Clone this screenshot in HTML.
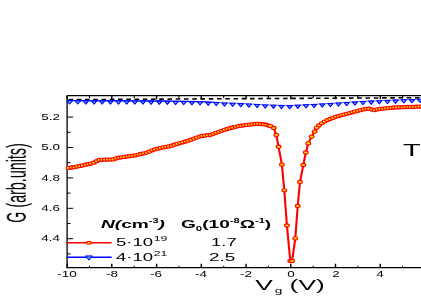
<!DOCTYPE html>
<html><head><meta charset="utf-8"><style>
html,body{margin:0;padding:0;background:#fff;}
body{width:421px;height:298px;position:relative;overflow:hidden;font-family:"Liberation Sans",sans-serif;color:#000;}
.t{position:absolute;white-space:nowrap;line-height:1.2;will-change:transform;}
sup{font-size:58%;vertical-align:baseline;position:relative;top:-0.72em;}
sup.s2{font-size:66%;top:-0.78em;margin-left:0.3px}
sub{font-size:70%;vertical-align:baseline;position:relative;top:0.3em;}
</style></head><body>
<svg width="421" height="298" viewBox="0 0 421 298" style="position:absolute;left:0;top:0">
<g stroke="#000" stroke-width="1.3" fill="none">
<path d="M67.1 95.6 V267.7 H422 M67.1 95.6 H422"/>
</g>
<g stroke="#000" stroke-width="1" fill="none">
<path d="M67.1 253.9 h3.4"/>
<path d="M67.1 238.7 h6"/>
<path d="M67.1 223.5 h3.4"/>
<path d="M67.1 208.3 h6"/>
<path d="M67.1 193.1 h3.4"/>
<path d="M67.1 177.9 h6"/>
<path d="M67.1 162.7 h3.4"/>
<path d="M67.1 147.5 h6"/>
<path d="M67.1 132.3 h3.4"/>
<path d="M67.1 117.1 h6"/>
<path d="M67.1 101.9 h3.4"/>
<path d="M67.1 267.7 v-3.9 M67.1 95.6 v3.6" stroke-width="1.4"/>
<path d="M89.5 267.7 v-2.0 M89.5 95.6 v2.6" stroke-width="1.1"/>
<path d="M111.8 267.7 v-3.9 M111.8 95.6 v3.6" stroke-width="1.4"/>
<path d="M134.2 267.7 v-2.0 M134.2 95.6 v2.6" stroke-width="1.1"/>
<path d="M156.6 267.7 v-3.9 M156.6 95.6 v3.6" stroke-width="1.4"/>
<path d="M178.9 267.7 v-2.0 M178.9 95.6 v2.6" stroke-width="1.1"/>
<path d="M201.3 267.7 v-3.9 M201.3 95.6 v3.6" stroke-width="1.4"/>
<path d="M223.7 267.7 v-2.0 M223.7 95.6 v2.6" stroke-width="1.1"/>
<path d="M246.1 267.7 v-3.9 M246.1 95.6 v3.6" stroke-width="1.4"/>
<path d="M268.4 267.7 v-2.0 M268.4 95.6 v2.6" stroke-width="1.1"/>
<path d="M290.8 267.7 v-3.9 M290.8 95.6 v3.6" stroke-width="1.4"/>
<path d="M313.2 267.7 v-2.0 M313.2 95.6 v2.6" stroke-width="1.1"/>
<path d="M335.5 267.7 v-3.9 M335.5 95.6 v3.6" stroke-width="1.4"/>
<path d="M357.9 267.7 v-2.0 M357.9 95.6 v2.6" stroke-width="1.1"/>
<path d="M380.3 267.7 v-3.9 M380.3 95.6 v3.6" stroke-width="1.4"/>
<path d="M402.6 267.7 v-2.0 M402.6 95.6 v2.6" stroke-width="1.1"/>
</g>
<path d="M67.1 99.7 L200 98.9 L421 97.7" stroke="#000" stroke-width="1.6" stroke-dasharray="4.6 3.65" stroke-dashoffset="6.85" fill="none"/>
<clipPath id="c1"><rect x="67" y="90" width="148" height="30"/></clipPath><clipPath id="c2"><rect x="215" y="90" width="210" height="30"/></clipPath>
<polyline points="67,100.7 160,101.0 200,101.7 240,103.5 270,105.0 290,105.5 310,104.5 340,102.8 360,101.4 395,100.0 425,99.1" stroke="#0000ff" stroke-width="1.3" fill="none" clip-path="url(#c1)"/>
<polyline points="67,100.7 160,101.0 200,101.7 240,103.5 270,105.0 290,105.5 310,104.5 340,102.8 360,101.4 395,100.0 425,99.1" stroke="#0000ff" stroke-width="0.6" fill="none" clip-path="url(#c2)"/>
<path d="M67.0 100.8 h5.2 l-2.6 3.2 z" fill="#55c0ff" stroke="#0000ff" stroke-width="1.05" stroke-linejoin="round"/>
<path d="M75.2 100.8 h5.2 l-2.6 3.2 z" fill="#55c0ff" stroke="#0000ff" stroke-width="1.05" stroke-linejoin="round"/>
<path d="M83.3 100.9 h5.2 l-2.6 3.2 z" fill="#55c0ff" stroke="#0000ff" stroke-width="1.05" stroke-linejoin="round"/>
<path d="M91.5 100.9 h5.2 l-2.6 3.2 z" fill="#55c0ff" stroke="#0000ff" stroke-width="1.05" stroke-linejoin="round"/>
<path d="M99.6 100.9 h5.2 l-2.6 3.2 z" fill="#55c0ff" stroke="#0000ff" stroke-width="1.05" stroke-linejoin="round"/>
<path d="M107.8 100.9 h5.2 l-2.6 3.2 z" fill="#55c0ff" stroke="#0000ff" stroke-width="1.05" stroke-linejoin="round"/>
<path d="M115.9 101.0 h5.2 l-2.6 3.2 z" fill="#55c0ff" stroke="#0000ff" stroke-width="1.05" stroke-linejoin="round"/>
<path d="M124.1 101.0 h5.2 l-2.6 3.2 z" fill="#55c0ff" stroke="#0000ff" stroke-width="1.05" stroke-linejoin="round"/>
<path d="M132.2 101.0 h5.2 l-2.6 3.2 z" fill="#55c0ff" stroke="#0000ff" stroke-width="1.05" stroke-linejoin="round"/>
<path d="M140.4 101.0 h5.2 l-2.6 3.2 z" fill="#55c0ff" stroke="#0000ff" stroke-width="1.05" stroke-linejoin="round"/>
<path d="M148.5 101.1 h5.2 l-2.6 3.2 z" fill="#55c0ff" stroke="#0000ff" stroke-width="1.05" stroke-linejoin="round"/>
<path d="M156.7 101.1 h5.2 l-2.6 3.2 z" fill="#55c0ff" stroke="#0000ff" stroke-width="1.05" stroke-linejoin="round"/>
<path d="M164.8 101.2 h5.2 l-2.6 3.2 z" fill="#55c0ff" stroke="#0000ff" stroke-width="1.05" stroke-linejoin="round"/>
<path d="M173.0 101.4 h5.2 l-2.6 3.2 z" fill="#55c0ff" stroke="#0000ff" stroke-width="1.05" stroke-linejoin="round"/>
<path d="M181.1 101.5 h5.2 l-2.6 3.2 z" fill="#55c0ff" stroke="#0000ff" stroke-width="1.05" stroke-linejoin="round"/>
<path d="M189.3 101.7 h5.2 l-2.6 3.2 z" fill="#55c0ff" stroke="#0000ff" stroke-width="1.05" stroke-linejoin="round"/>
<path d="M197.4 101.8 h5.2 l-2.6 3.2 z" fill="#55c0ff" stroke="#0000ff" stroke-width="1.05" stroke-linejoin="round"/>
<path d="M205.6 102.2 h5.2 l-2.6 3.2 z" fill="#55c0ff" stroke="#0000ff" stroke-width="1.05" stroke-linejoin="round"/>
<path d="M213.7 102.5 h5.2 l-2.6 3.2 z" fill="#55c0ff" stroke="#0000ff" stroke-width="1.05" stroke-linejoin="round"/>
<path d="M221.9 102.9 h5.2 l-2.6 3.2 z" fill="#55c0ff" stroke="#0000ff" stroke-width="1.05" stroke-linejoin="round"/>
<path d="M230.0 103.3 h5.2 l-2.6 3.2 z" fill="#55c0ff" stroke="#0000ff" stroke-width="1.05" stroke-linejoin="round"/>
<path d="M238.2 103.6 h5.2 l-2.6 3.2 z" fill="#55c0ff" stroke="#0000ff" stroke-width="1.05" stroke-linejoin="round"/>
<path d="M246.3 104.0 h5.2 l-2.6 3.2 z" fill="#55c0ff" stroke="#0000ff" stroke-width="1.05" stroke-linejoin="round"/>
<path d="M254.5 104.5 h5.2 l-2.6 3.2 z" fill="#55c0ff" stroke="#0000ff" stroke-width="1.05" stroke-linejoin="round"/>
<path d="M262.6 104.9 h5.2 l-2.6 3.2 z" fill="#55c0ff" stroke="#0000ff" stroke-width="1.05" stroke-linejoin="round"/>
<path d="M270.8 105.2 h5.2 l-2.6 3.2 z" fill="#55c0ff" stroke="#0000ff" stroke-width="1.05" stroke-linejoin="round"/>
<path d="M278.9 105.4 h5.2 l-2.6 3.2 z" fill="#55c0ff" stroke="#0000ff" stroke-width="1.05" stroke-linejoin="round"/>
<path d="M287.1 105.6 h5.2 l-2.6 3.2 z" fill="#55c0ff" stroke="#0000ff" stroke-width="1.05" stroke-linejoin="round"/>
<path d="M295.2 105.2 h5.2 l-2.6 3.2 z" fill="#55c0ff" stroke="#0000ff" stroke-width="1.05" stroke-linejoin="round"/>
<path d="M303.4 104.8 h5.2 l-2.6 3.2 z" fill="#55c0ff" stroke="#0000ff" stroke-width="1.05" stroke-linejoin="round"/>
<path d="M311.5 104.4 h5.2 l-2.6 3.2 z" fill="#55c0ff" stroke="#0000ff" stroke-width="1.05" stroke-linejoin="round"/>
<path d="M319.7 103.9 h5.2 l-2.6 3.2 z" fill="#55c0ff" stroke="#0000ff" stroke-width="1.05" stroke-linejoin="round"/>
<path d="M327.8 103.4 h5.2 l-2.6 3.2 z" fill="#55c0ff" stroke="#0000ff" stroke-width="1.05" stroke-linejoin="round"/>
<path d="M336.0 103.0 h5.2 l-2.6 3.2 z" fill="#55c0ff" stroke="#0000ff" stroke-width="1.05" stroke-linejoin="round"/>
<path d="M344.1 102.4 h5.2 l-2.6 3.2 z" fill="#55c0ff" stroke="#0000ff" stroke-width="1.05" stroke-linejoin="round"/>
<path d="M352.3 101.9 h5.2 l-2.6 3.2 z" fill="#55c0ff" stroke="#0000ff" stroke-width="1.05" stroke-linejoin="round"/>
<path d="M360.4 101.4 h5.2 l-2.6 3.2 z" fill="#55c0ff" stroke="#0000ff" stroke-width="1.05" stroke-linejoin="round"/>
<path d="M368.6 101.1 h5.2 l-2.6 3.2 z" fill="#55c0ff" stroke="#0000ff" stroke-width="1.05" stroke-linejoin="round"/>
<path d="M376.7 100.7 h5.2 l-2.6 3.2 z" fill="#55c0ff" stroke="#0000ff" stroke-width="1.05" stroke-linejoin="round"/>
<path d="M384.9 100.4 h5.2 l-2.6 3.2 z" fill="#55c0ff" stroke="#0000ff" stroke-width="1.05" stroke-linejoin="round"/>
<path d="M393.0 100.1 h5.2 l-2.6 3.2 z" fill="#55c0ff" stroke="#0000ff" stroke-width="1.05" stroke-linejoin="round"/>
<path d="M401.2 99.8 h5.2 l-2.6 3.2 z" fill="#55c0ff" stroke="#0000ff" stroke-width="1.05" stroke-linejoin="round"/>
<path d="M409.3 99.6 h5.2 l-2.6 3.2 z" fill="#55c0ff" stroke="#0000ff" stroke-width="1.05" stroke-linejoin="round"/>
<path d="M417.5 99.3 h5.2 l-2.6 3.2 z" fill="#55c0ff" stroke="#0000ff" stroke-width="1.05" stroke-linejoin="round"/>
<polyline points="67,168.1 75.1,167.1 85.2,164.8 92.7,163.3 99,159.9 112.9,159.5 117.9,157.8 135.6,155.3 148.2,152.2 153.2,149.8 165,147 170,146.2 175.2,144.5 187.8,140.9 200.4,136.2 210.5,134.8 225.6,129.4 238.2,126.1 248,124.7 257.6,123.8 265,124.3 270.5,126.1 273.8,128 276.3,135 278.6,146.7 281.9,164.6 284.3,190.3 286.9,225.5 290.3,261 292.1,261 295.3,238.4 297.7,206 300,182 303.3,165 305.8,152.5 308.3,143.4 311.6,136.6 314.6,131.6 316.6,127.8 320.6,124 327,120.2 335.7,116.8 345,114.3 355,111.6 362,109.8 367.8,108.4 371,109.3 374,110.2 377,109.5 380,108.9 395.5,107.4 410,106.9 425,106.4" stroke="#ff0000" stroke-width="2.1" fill="none" stroke-linejoin="round"/>
<ellipse cx="68.8" cy="167.9" rx="2.4" ry="1.6" fill="#ffe000" stroke="#ff0000" stroke-width="1.1"/>
<ellipse cx="71.6" cy="167.5" rx="2.4" ry="1.6" fill="#ffe000" stroke="#ff0000" stroke-width="1.1"/>
<ellipse cx="74.4" cy="167.2" rx="2.4" ry="1.6" fill="#ffe000" stroke="#ff0000" stroke-width="1.1"/>
<ellipse cx="77.1" cy="166.6" rx="2.4" ry="1.6" fill="#ffe000" stroke="#ff0000" stroke-width="1.1"/>
<ellipse cx="79.9" cy="166.0" rx="2.4" ry="1.6" fill="#ffe000" stroke="#ff0000" stroke-width="1.1"/>
<ellipse cx="82.7" cy="165.4" rx="2.4" ry="1.6" fill="#ffe000" stroke="#ff0000" stroke-width="1.1"/>
<ellipse cx="85.5" cy="164.7" rx="2.4" ry="1.6" fill="#ffe000" stroke="#ff0000" stroke-width="1.1"/>
<ellipse cx="88.3" cy="164.2" rx="2.4" ry="1.6" fill="#ffe000" stroke="#ff0000" stroke-width="1.1"/>
<ellipse cx="91.0" cy="163.6" rx="2.4" ry="1.6" fill="#ffe000" stroke="#ff0000" stroke-width="1.1"/>
<ellipse cx="93.8" cy="162.7" rx="2.4" ry="1.6" fill="#ffe000" stroke="#ff0000" stroke-width="1.1"/>
<ellipse cx="96.6" cy="161.2" rx="2.4" ry="1.6" fill="#ffe000" stroke="#ff0000" stroke-width="1.1"/>
<ellipse cx="99.4" cy="159.9" rx="2.4" ry="1.6" fill="#ffe000" stroke="#ff0000" stroke-width="1.1"/>
<ellipse cx="102.2" cy="159.8" rx="2.4" ry="1.6" fill="#ffe000" stroke="#ff0000" stroke-width="1.1"/>
<ellipse cx="104.9" cy="159.7" rx="2.4" ry="1.6" fill="#ffe000" stroke="#ff0000" stroke-width="1.1"/>
<ellipse cx="107.7" cy="159.6" rx="2.4" ry="1.6" fill="#ffe000" stroke="#ff0000" stroke-width="1.1"/>
<ellipse cx="110.5" cy="159.6" rx="2.4" ry="1.6" fill="#ffe000" stroke="#ff0000" stroke-width="1.1"/>
<ellipse cx="113.3" cy="159.4" rx="2.4" ry="1.6" fill="#ffe000" stroke="#ff0000" stroke-width="1.1"/>
<ellipse cx="116.1" cy="158.4" rx="2.4" ry="1.6" fill="#ffe000" stroke="#ff0000" stroke-width="1.1"/>
<ellipse cx="118.8" cy="157.7" rx="2.4" ry="1.6" fill="#ffe000" stroke="#ff0000" stroke-width="1.1"/>
<ellipse cx="121.6" cy="157.3" rx="2.4" ry="1.6" fill="#ffe000" stroke="#ff0000" stroke-width="1.1"/>
<ellipse cx="124.4" cy="156.9" rx="2.4" ry="1.6" fill="#ffe000" stroke="#ff0000" stroke-width="1.1"/>
<ellipse cx="127.2" cy="156.5" rx="2.4" ry="1.6" fill="#ffe000" stroke="#ff0000" stroke-width="1.1"/>
<ellipse cx="130.0" cy="156.1" rx="2.4" ry="1.6" fill="#ffe000" stroke="#ff0000" stroke-width="1.1"/>
<ellipse cx="132.7" cy="155.7" rx="2.4" ry="1.6" fill="#ffe000" stroke="#ff0000" stroke-width="1.1"/>
<ellipse cx="135.5" cy="155.3" rx="2.4" ry="1.6" fill="#ffe000" stroke="#ff0000" stroke-width="1.1"/>
<ellipse cx="138.3" cy="154.6" rx="2.4" ry="1.6" fill="#ffe000" stroke="#ff0000" stroke-width="1.1"/>
<ellipse cx="141.1" cy="154.0" rx="2.4" ry="1.6" fill="#ffe000" stroke="#ff0000" stroke-width="1.1"/>
<ellipse cx="143.9" cy="153.3" rx="2.4" ry="1.6" fill="#ffe000" stroke="#ff0000" stroke-width="1.1"/>
<ellipse cx="146.6" cy="152.6" rx="2.4" ry="1.6" fill="#ffe000" stroke="#ff0000" stroke-width="1.1"/>
<ellipse cx="149.4" cy="151.6" rx="2.4" ry="1.6" fill="#ffe000" stroke="#ff0000" stroke-width="1.1"/>
<ellipse cx="152.2" cy="150.3" rx="2.4" ry="1.6" fill="#ffe000" stroke="#ff0000" stroke-width="1.1"/>
<ellipse cx="155.0" cy="149.4" rx="2.4" ry="1.6" fill="#ffe000" stroke="#ff0000" stroke-width="1.1"/>
<ellipse cx="157.8" cy="148.7" rx="2.4" ry="1.6" fill="#ffe000" stroke="#ff0000" stroke-width="1.1"/>
<ellipse cx="160.5" cy="148.1" rx="2.4" ry="1.6" fill="#ffe000" stroke="#ff0000" stroke-width="1.1"/>
<ellipse cx="163.3" cy="147.4" rx="2.4" ry="1.6" fill="#ffe000" stroke="#ff0000" stroke-width="1.1"/>
<ellipse cx="166.1" cy="146.8" rx="2.4" ry="1.6" fill="#ffe000" stroke="#ff0000" stroke-width="1.1"/>
<ellipse cx="168.9" cy="146.4" rx="2.4" ry="1.6" fill="#ffe000" stroke="#ff0000" stroke-width="1.1"/>
<ellipse cx="171.7" cy="145.7" rx="2.4" ry="1.6" fill="#ffe000" stroke="#ff0000" stroke-width="1.1"/>
<ellipse cx="174.4" cy="144.7" rx="2.4" ry="1.6" fill="#ffe000" stroke="#ff0000" stroke-width="1.1"/>
<ellipse cx="177.2" cy="143.9" rx="2.4" ry="1.6" fill="#ffe000" stroke="#ff0000" stroke-width="1.1"/>
<ellipse cx="180.0" cy="143.1" rx="2.4" ry="1.6" fill="#ffe000" stroke="#ff0000" stroke-width="1.1"/>
<ellipse cx="182.8" cy="142.3" rx="2.4" ry="1.6" fill="#ffe000" stroke="#ff0000" stroke-width="1.1"/>
<ellipse cx="185.6" cy="141.5" rx="2.4" ry="1.6" fill="#ffe000" stroke="#ff0000" stroke-width="1.1"/>
<ellipse cx="188.3" cy="140.7" rx="2.4" ry="1.6" fill="#ffe000" stroke="#ff0000" stroke-width="1.1"/>
<ellipse cx="191.1" cy="139.7" rx="2.4" ry="1.6" fill="#ffe000" stroke="#ff0000" stroke-width="1.1"/>
<ellipse cx="193.9" cy="138.6" rx="2.4" ry="1.6" fill="#ffe000" stroke="#ff0000" stroke-width="1.1"/>
<ellipse cx="196.7" cy="137.6" rx="2.4" ry="1.6" fill="#ffe000" stroke="#ff0000" stroke-width="1.1"/>
<ellipse cx="199.5" cy="136.6" rx="2.4" ry="1.6" fill="#ffe000" stroke="#ff0000" stroke-width="1.1"/>
<ellipse cx="202.2" cy="135.9" rx="2.4" ry="1.6" fill="#ffe000" stroke="#ff0000" stroke-width="1.1"/>
<ellipse cx="205.0" cy="135.6" rx="2.4" ry="1.6" fill="#ffe000" stroke="#ff0000" stroke-width="1.1"/>
<ellipse cx="207.8" cy="135.2" rx="2.4" ry="1.6" fill="#ffe000" stroke="#ff0000" stroke-width="1.1"/>
<ellipse cx="210.6" cy="134.8" rx="2.4" ry="1.6" fill="#ffe000" stroke="#ff0000" stroke-width="1.1"/>
<ellipse cx="213.4" cy="133.8" rx="2.4" ry="1.6" fill="#ffe000" stroke="#ff0000" stroke-width="1.1"/>
<ellipse cx="216.1" cy="132.8" rx="2.4" ry="1.6" fill="#ffe000" stroke="#ff0000" stroke-width="1.1"/>
<ellipse cx="218.9" cy="131.8" rx="2.4" ry="1.6" fill="#ffe000" stroke="#ff0000" stroke-width="1.1"/>
<ellipse cx="221.7" cy="130.8" rx="2.4" ry="1.6" fill="#ffe000" stroke="#ff0000" stroke-width="1.1"/>
<ellipse cx="224.5" cy="129.8" rx="2.4" ry="1.6" fill="#ffe000" stroke="#ff0000" stroke-width="1.1"/>
<ellipse cx="227.3" cy="129.0" rx="2.4" ry="1.6" fill="#ffe000" stroke="#ff0000" stroke-width="1.1"/>
<ellipse cx="230.0" cy="128.2" rx="2.4" ry="1.6" fill="#ffe000" stroke="#ff0000" stroke-width="1.1"/>
<ellipse cx="232.8" cy="127.5" rx="2.4" ry="1.6" fill="#ffe000" stroke="#ff0000" stroke-width="1.1"/>
<ellipse cx="235.6" cy="126.8" rx="2.4" ry="1.6" fill="#ffe000" stroke="#ff0000" stroke-width="1.1"/>
<ellipse cx="238.4" cy="126.1" rx="2.4" ry="1.6" fill="#ffe000" stroke="#ff0000" stroke-width="1.1"/>
<ellipse cx="241.2" cy="125.7" rx="2.4" ry="1.6" fill="#ffe000" stroke="#ff0000" stroke-width="1.1"/>
<ellipse cx="243.9" cy="125.3" rx="2.4" ry="1.6" fill="#ffe000" stroke="#ff0000" stroke-width="1.1"/>
<ellipse cx="246.7" cy="124.9" rx="2.4" ry="1.6" fill="#ffe000" stroke="#ff0000" stroke-width="1.1"/>
<ellipse cx="249.5" cy="124.6" rx="2.4" ry="1.6" fill="#ffe000" stroke="#ff0000" stroke-width="1.1"/>
<ellipse cx="252.3" cy="124.3" rx="2.4" ry="1.6" fill="#ffe000" stroke="#ff0000" stroke-width="1.1"/>
<ellipse cx="255.1" cy="124.0" rx="2.4" ry="1.6" fill="#ffe000" stroke="#ff0000" stroke-width="1.1"/>
<ellipse cx="257.8" cy="123.8" rx="2.4" ry="1.6" fill="#ffe000" stroke="#ff0000" stroke-width="1.1"/>
<ellipse cx="260.6" cy="124.0" rx="2.4" ry="1.6" fill="#ffe000" stroke="#ff0000" stroke-width="1.1"/>
<ellipse cx="263.4" cy="124.2" rx="2.4" ry="1.6" fill="#ffe000" stroke="#ff0000" stroke-width="1.1"/>
<ellipse cx="266.2" cy="124.7" rx="2.4" ry="1.6" fill="#ffe000" stroke="#ff0000" stroke-width="1.1"/>
<ellipse cx="269.0" cy="125.6" rx="2.4" ry="1.6" fill="#ffe000" stroke="#ff0000" stroke-width="1.1"/>
<ellipse cx="319.0" cy="125.5" rx="2.4" ry="1.6" fill="#ffe000" stroke="#ff0000" stroke-width="1.1"/>
<ellipse cx="321.8" cy="123.3" rx="2.4" ry="1.6" fill="#ffe000" stroke="#ff0000" stroke-width="1.1"/>
<ellipse cx="324.6" cy="121.6" rx="2.4" ry="1.6" fill="#ffe000" stroke="#ff0000" stroke-width="1.1"/>
<ellipse cx="327.3" cy="120.1" rx="2.4" ry="1.6" fill="#ffe000" stroke="#ff0000" stroke-width="1.1"/>
<ellipse cx="330.1" cy="119.0" rx="2.4" ry="1.6" fill="#ffe000" stroke="#ff0000" stroke-width="1.1"/>
<ellipse cx="332.9" cy="117.9" rx="2.4" ry="1.6" fill="#ffe000" stroke="#ff0000" stroke-width="1.1"/>
<ellipse cx="335.7" cy="116.8" rx="2.4" ry="1.6" fill="#ffe000" stroke="#ff0000" stroke-width="1.1"/>
<ellipse cx="338.5" cy="116.1" rx="2.4" ry="1.6" fill="#ffe000" stroke="#ff0000" stroke-width="1.1"/>
<ellipse cx="341.2" cy="115.3" rx="2.4" ry="1.6" fill="#ffe000" stroke="#ff0000" stroke-width="1.1"/>
<ellipse cx="344.0" cy="114.6" rx="2.4" ry="1.6" fill="#ffe000" stroke="#ff0000" stroke-width="1.1"/>
<ellipse cx="346.8" cy="113.8" rx="2.4" ry="1.6" fill="#ffe000" stroke="#ff0000" stroke-width="1.1"/>
<ellipse cx="349.6" cy="113.1" rx="2.4" ry="1.6" fill="#ffe000" stroke="#ff0000" stroke-width="1.1"/>
<ellipse cx="352.4" cy="112.3" rx="2.4" ry="1.6" fill="#ffe000" stroke="#ff0000" stroke-width="1.1"/>
<ellipse cx="355.1" cy="111.6" rx="2.4" ry="1.6" fill="#ffe000" stroke="#ff0000" stroke-width="1.1"/>
<ellipse cx="357.9" cy="110.8" rx="2.4" ry="1.6" fill="#ffe000" stroke="#ff0000" stroke-width="1.1"/>
<ellipse cx="360.7" cy="110.1" rx="2.4" ry="1.6" fill="#ffe000" stroke="#ff0000" stroke-width="1.1"/>
<ellipse cx="363.5" cy="109.4" rx="2.4" ry="1.6" fill="#ffe000" stroke="#ff0000" stroke-width="1.1"/>
<ellipse cx="366.3" cy="108.8" rx="2.4" ry="1.6" fill="#ffe000" stroke="#ff0000" stroke-width="1.1"/>
<ellipse cx="369.0" cy="108.7" rx="2.4" ry="1.6" fill="#ffe000" stroke="#ff0000" stroke-width="1.1"/>
<ellipse cx="371.8" cy="109.5" rx="2.4" ry="1.6" fill="#ffe000" stroke="#ff0000" stroke-width="1.1"/>
<ellipse cx="374.6" cy="110.1" rx="2.4" ry="1.6" fill="#ffe000" stroke="#ff0000" stroke-width="1.1"/>
<ellipse cx="377.4" cy="109.4" rx="2.4" ry="1.6" fill="#ffe000" stroke="#ff0000" stroke-width="1.1"/>
<ellipse cx="380.2" cy="108.9" rx="2.4" ry="1.6" fill="#ffe000" stroke="#ff0000" stroke-width="1.1"/>
<ellipse cx="382.9" cy="108.6" rx="2.4" ry="1.6" fill="#ffe000" stroke="#ff0000" stroke-width="1.1"/>
<ellipse cx="385.7" cy="108.3" rx="2.4" ry="1.6" fill="#ffe000" stroke="#ff0000" stroke-width="1.1"/>
<ellipse cx="388.5" cy="108.1" rx="2.4" ry="1.6" fill="#ffe000" stroke="#ff0000" stroke-width="1.1"/>
<ellipse cx="391.3" cy="107.8" rx="2.4" ry="1.6" fill="#ffe000" stroke="#ff0000" stroke-width="1.1"/>
<ellipse cx="394.1" cy="107.5" rx="2.4" ry="1.6" fill="#ffe000" stroke="#ff0000" stroke-width="1.1"/>
<ellipse cx="396.8" cy="107.4" rx="2.4" ry="1.6" fill="#ffe000" stroke="#ff0000" stroke-width="1.1"/>
<ellipse cx="399.6" cy="107.3" rx="2.4" ry="1.6" fill="#ffe000" stroke="#ff0000" stroke-width="1.1"/>
<ellipse cx="402.4" cy="107.2" rx="2.4" ry="1.6" fill="#ffe000" stroke="#ff0000" stroke-width="1.1"/>
<ellipse cx="405.2" cy="107.1" rx="2.4" ry="1.6" fill="#ffe000" stroke="#ff0000" stroke-width="1.1"/>
<ellipse cx="408.0" cy="107.0" rx="2.4" ry="1.6" fill="#ffe000" stroke="#ff0000" stroke-width="1.1"/>
<ellipse cx="410.7" cy="106.9" rx="2.4" ry="1.6" fill="#ffe000" stroke="#ff0000" stroke-width="1.1"/>
<ellipse cx="413.5" cy="106.8" rx="2.4" ry="1.6" fill="#ffe000" stroke="#ff0000" stroke-width="1.1"/>
<ellipse cx="416.3" cy="106.7" rx="2.4" ry="1.6" fill="#ffe000" stroke="#ff0000" stroke-width="1.1"/>
<ellipse cx="419.1" cy="106.6" rx="2.4" ry="1.6" fill="#ffe000" stroke="#ff0000" stroke-width="1.1"/>
<ellipse cx="421.9" cy="106.5" rx="2.4" ry="1.6" fill="#ffe000" stroke="#ff0000" stroke-width="1.1"/>
<ellipse cx="424.6" cy="106.4" rx="2.4" ry="1.6" fill="#ffe000" stroke="#ff0000" stroke-width="1.1"/>
<ellipse cx="270.5" cy="126.1" rx="2.4" ry="1.6" fill="#ffe000" stroke="#ff0000" stroke-width="1.1"/>
<ellipse cx="273.8" cy="128.0" rx="2.4" ry="1.6" fill="#ffe000" stroke="#ff0000" stroke-width="1.1"/>
<ellipse cx="276.3" cy="135.0" rx="2.4" ry="1.6" fill="#ffe000" stroke="#ff0000" stroke-width="1.1"/>
<ellipse cx="278.6" cy="146.7" rx="2.4" ry="1.6" fill="#ffe000" stroke="#ff0000" stroke-width="1.1"/>
<ellipse cx="281.9" cy="164.6" rx="2.4" ry="1.6" fill="#ffe000" stroke="#ff0000" stroke-width="1.1"/>
<ellipse cx="284.3" cy="190.3" rx="2.4" ry="1.6" fill="#ffe000" stroke="#ff0000" stroke-width="1.1"/>
<ellipse cx="286.9" cy="225.5" rx="2.4" ry="1.6" fill="#ffe000" stroke="#ff0000" stroke-width="1.1"/>
<ellipse cx="290.3" cy="261.0" rx="2.4" ry="1.6" fill="#ffe000" stroke="#ff0000" stroke-width="1.1"/>
<ellipse cx="292.1" cy="261.0" rx="2.4" ry="1.6" fill="#ffe000" stroke="#ff0000" stroke-width="1.1"/>
<ellipse cx="295.3" cy="238.4" rx="2.4" ry="1.6" fill="#ffe000" stroke="#ff0000" stroke-width="1.1"/>
<ellipse cx="297.7" cy="206.0" rx="2.4" ry="1.6" fill="#ffe000" stroke="#ff0000" stroke-width="1.1"/>
<ellipse cx="300.0" cy="182.0" rx="2.4" ry="1.6" fill="#ffe000" stroke="#ff0000" stroke-width="1.1"/>
<ellipse cx="303.3" cy="165.0" rx="2.4" ry="1.6" fill="#ffe000" stroke="#ff0000" stroke-width="1.1"/>
<ellipse cx="305.8" cy="152.5" rx="2.4" ry="1.6" fill="#ffe000" stroke="#ff0000" stroke-width="1.1"/>
<ellipse cx="308.3" cy="143.4" rx="2.4" ry="1.6" fill="#ffe000" stroke="#ff0000" stroke-width="1.1"/>
<ellipse cx="311.6" cy="136.6" rx="2.4" ry="1.6" fill="#ffe000" stroke="#ff0000" stroke-width="1.1"/>
<ellipse cx="314.6" cy="131.6" rx="2.4" ry="1.6" fill="#ffe000" stroke="#ff0000" stroke-width="1.1"/>
<ellipse cx="316.6" cy="127.8" rx="2.4" ry="1.6" fill="#ffe000" stroke="#ff0000" stroke-width="1.1"/>
<path d="M66.5 242.8 H111.6" stroke="#ff0000" stroke-width="1.6"/>
<ellipse cx="89" cy="242.8" rx="2.3" ry="1.4" fill="#ffe000" stroke="#ff0000" stroke-width="1.1"/>
<path d="M66.5 257.3 H111.6" stroke="#0000ff" stroke-width="1.6"/>
<path d="M85.6 255.9 h6.8 l-3.4 4.3 z" fill="#3aa0ff" stroke="#0000ff" stroke-width="1"/>
</svg>
<div class="t" style="left:60.2px;top:112.69999999999999px;font-size:8.3px;font-weight:normal;font-style:normal;transform:translateX(-100%) scaleX(1.62);transform-origin:right top;">5.2</div><div class="t" style="left:60.2px;top:143.1px;font-size:8.3px;font-weight:normal;font-style:normal;transform:translateX(-100%) scaleX(1.62);transform-origin:right top;">5.0</div><div class="t" style="left:60.2px;top:173.50000000000003px;font-size:8.3px;font-weight:normal;font-style:normal;transform:translateX(-100%) scaleX(1.62);transform-origin:right top;">4.8</div><div class="t" style="left:60.2px;top:203.90000000000006px;font-size:8.3px;font-weight:normal;font-style:normal;transform:translateX(-100%) scaleX(1.62);transform-origin:right top;">4.6</div><div class="t" style="left:60.2px;top:234.29999999999993px;font-size:8.3px;font-weight:normal;font-style:normal;transform:translateX(-100%) scaleX(1.62);transform-origin:right top;">4.4</div><div class="t" style="left:66.8px;top:270.3px;font-size:8.3px;font-weight:normal;font-style:normal;transform:translateX(-50%) scaleX(1.62);transform-origin:center top;">-10</div><div class="t" style="left:111.54px;top:270.3px;font-size:8.3px;font-weight:normal;font-style:normal;transform:translateX(-50%) scaleX(1.62);transform-origin:center top;">-8</div><div class="t" style="left:156.27999999999997px;top:270.3px;font-size:8.3px;font-weight:normal;font-style:normal;transform:translateX(-50%) scaleX(1.62);transform-origin:center top;">-6</div><div class="t" style="left:201.01999999999998px;top:270.3px;font-size:8.3px;font-weight:normal;font-style:normal;transform:translateX(-50%) scaleX(1.62);transform-origin:center top;">-4</div><div class="t" style="left:245.76px;top:270.3px;font-size:8.3px;font-weight:normal;font-style:normal;transform:translateX(-50%) scaleX(1.62);transform-origin:center top;">-2</div><div class="t" style="left:290.8px;top:270.3px;font-size:8.3px;font-weight:normal;font-style:normal;transform:translateX(-50%) scaleX(1.62);transform-origin:center top;">0</div><div class="t" style="left:335.53999999999996px;top:270.3px;font-size:8.3px;font-weight:normal;font-style:normal;transform:translateX(-50%) scaleX(1.62);transform-origin:center top;">2</div><div class="t" style="left:380.28px;top:270.3px;font-size:8.3px;font-weight:normal;font-style:normal;transform:translateX(-50%) scaleX(1.62);transform-origin:center top;">4</div><div class="t" style="left:290.3px;top:277.3px;font-size:14.5px;font-weight:normal;font-style:normal;transform:translateX(-50%) scaleX(1.82);transform-origin:center top;">V<sub style="font-size:52%;top:0.42em;margin-left:1px">g</sub> (V)</div><div class="t" style="left:402.6px;top:141.2px;font-size:16px;font-weight:normal;font-style:normal;transform:scaleX(1.8);transform-origin:left top;">T</div><div class="t" style="left:101.2px;top:217.8px;font-size:11.5px;font-weight:bold;font-style:normal;transform:scaleX(1.66);transform-origin:left top;"><i>N(</i>cm<sup>-3</sup><i>)</i></div><div class="t" style="left:180.7px;top:217.8px;font-size:11.5px;font-weight:bold;font-style:normal;transform:scaleX(1.66);transform-origin:left top;">G<sub style="font-size:60%;top:0.5em">0</sub>(10<sup>-8</sup>&Omega;<sup>-1</sup>)</div><div class="t" style="left:115.8px;top:236px;font-size:10.5px;font-weight:normal;font-style:normal;transform:scaleX(1.77);transform-origin:left top;">5&middot;10<sup class="s2">19</sup></div><div class="t" style="left:115.8px;top:250.5px;font-size:10.5px;font-weight:normal;font-style:normal;transform:scaleX(1.77);transform-origin:left top;">4&middot;10<sup class="s2">21</sup></div><div class="t" style="left:210.6px;top:236px;font-size:10.5px;font-weight:normal;font-style:normal;transform:scaleX(1.76);transform-origin:left top;">1.7</div><div class="t" style="left:209.3px;top:250.5px;font-size:10.5px;font-weight:normal;font-style:normal;transform:scaleX(1.8);transform-origin:left top;">2.5</div>
<div class="t" style="left:16.6px;top:182.5px;font-size:27px;transform:translate(-50%,-50%) rotate(-90deg) scaleX(0.53);transform-origin:center center;">G (arb.units)</div>
</body></html>
